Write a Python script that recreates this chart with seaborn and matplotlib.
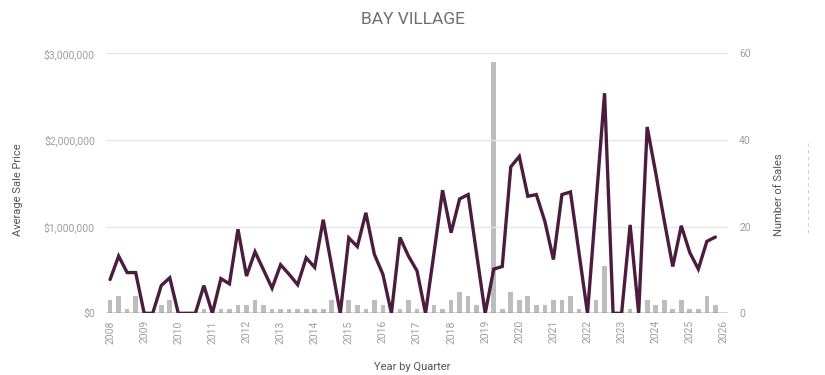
import numpy as np
import pandas as pd
import matplotlib
matplotlib.use("Agg")
import matplotlib.pyplot as plt
from matplotlib.lines import Line2D
from matplotlib.ticker import FuncFormatter, FixedLocator, FixedFormatter
import seaborn as sns

# ---- data (quarterly, 2008 Q1 .. 2025 Q4) ----
start_year = 2008
avg_price_millions = [
    0.39, 0.66, 0.47, 0.47, 0.00, 0.00, 0.32, 0.41,
    0.00, 0.00, 0.00, 0.32, 0.00, 0.40, 0.34, 0.97,
    0.43, 0.71, 0.50, 0.29, 0.56, 0.45, 0.33, 0.64,
    0.53, 1.08, 0.54, 0.00, 0.87, 0.77, 1.16, 0.68,
    0.45, 0.00, 0.875, 0.66, 0.49, 0.00, 0.70, 1.42,
    0.93, 1.32, 1.37, 0.68, 0.00, 0.51, 0.54, 1.69,
    1.81, 1.35, 1.37, 1.06, 0.62, 1.37, 1.40, 0.70,
    0.00, 1.27, 2.54, 0.00, 0.00, 1.02, 0.00, 2.15,
    1.62, 1.07, 0.54, 1.01, 0.70, 0.51, 0.83, 0.88,
]
num_sales = [
    3, 4, 1, 4, 0, 0, 2, 3,
    0, 0, 0, 1, 0, 1, 1, 2,
    2, 3, 2, 1, 1, 1, 1, 1,
    1, 1, 3, 0, 3, 2, 1, 3,
    2, 0, 1, 3, 1, 0, 2, 1,
    3, 5, 4, 2, 0, 58, 1, 5,
    3, 4, 2, 2, 3, 3, 4, 1,
    0, 3, 11, 0, 0, 1, 0, 3,
    2, 3, 1, 3, 1, 1, 4, 2,
]
year_ticks = list(range(2008, 2027))
price_ticks = [0, 1_000_000, 2_000_000, 3_000_000]
sales_ticks = [0, 20, 40, 60]

title = "BAY VILLAGE"
x_title = "Year by Quarter"
y_left_title = "Average Sale Price"
y_right_title = "Number of Sales"

quarter_pos = [start_year + i * 0.25 for i in range(len(num_sales))]
df = pd.DataFrame({
    "t": quarter_pos,
    "price": [v * 1_000_000 for v in avg_price_millions],
    "sales": num_sales,
})

# ---- style ----
sns.set_theme(style="white")
plt.rcParams["font.family"] = ["Roboto", "DejaVu Sans"]

fig = plt.figure(figsize=(8.25, 3.75), dpi=100)
ax = fig.add_axes([106 / 825, 1 - 313.3 / 375, (728 - 106) / 825, (313.3 - 53.3) / 375])
ax2 = ax.twinx()

line_color = "#4b1c3f"
bar_color = "#bdbdbd"
tick_color = "#9e9e9e"
label_color = "#555555"
grid_color = "#e6e6e6"

# bars (number of sales) on the secondary axis
sns.barplot(data=df, x="t", y="sales", native_scale=True, ax=ax2,
            color=bar_color, width=0.55, saturation=1, edgecolor="none")
# line (average price) on the primary axis
sns.lineplot(data=df, x="t", y="price", ax=ax, color=line_color,
             linewidth=2.4, solid_joinstyle="miter")

ax.set_zorder(ax2.get_zorder() + 1)
ax.patch.set_visible(False)

ax.set_xlim(2007.88, 2026.12)
ax.set_ylim(0, 3_000_000)
ax2.set_ylim(0, 60)

ax.set_yticks(price_ticks)
ax.yaxis.set_major_formatter(FuncFormatter(lambda v, p: f"${v:,.0f}"))
ax2.yaxis.set_major_locator(FixedLocator(sales_ticks))
ax2.yaxis.set_major_formatter(FixedFormatter([str(v) for v in sales_ticks]))

ax.xaxis.set_major_locator(FixedLocator(year_ticks))
ax.xaxis.set_major_formatter(FixedFormatter([str(y) for y in year_ticks]))
for lab in ax.get_xticklabels():
    lab.set_rotation(90)

ax.grid(axis="y", color=grid_color, linewidth=1)
ax.grid(axis="x", visible=False)
ax2.grid(False)

for a in (ax, ax2):
    for s in a.spines.values():
        s.set_visible(False)
    a.set_xlabel("")
    a.set_ylabel("")

ax.axhline(0, color="#444444", linewidth=1, zorder=1)

ax.tick_params(axis="y", length=0, pad=8, labelsize=7.5, labelcolor=tick_color)
ax2.tick_params(axis="y", length=0, pad=8, labelsize=7.5, labelcolor=tick_color)
ax.tick_params(axis="x", length=0, pad=5, labelsize=7.5, labelcolor=tick_color,
               labelbottom=True, labelrotation=90)

fig.text(0.5, 0.947, title, ha="center", va="center", fontsize=12.5, color="#6e6e6e")
fig.text(412 / 825, 1 - 367 / 375, x_title, ha="center", va="center", fontsize=8, color=label_color)
fig.text(18 / 825, 1 - 190 / 375, y_left_title, ha="center", va="center", rotation=90,
         fontsize=8, color=label_color)
fig.text(779 / 825, 1 - 195 / 375, y_right_title, ha="center", va="center", rotation=90,
         fontsize=8, color=label_color)
fig.add_artist(Line2D([808 / 825, 808 / 825], [1 - 143 / 375, 1 - 233 / 375],
                      transform=fig.transFigure, color="#d0d0d0", linewidth=0.8,
                      linestyle=(0, (3, 3))))

fig.savefig("out.png", dpi=100)
